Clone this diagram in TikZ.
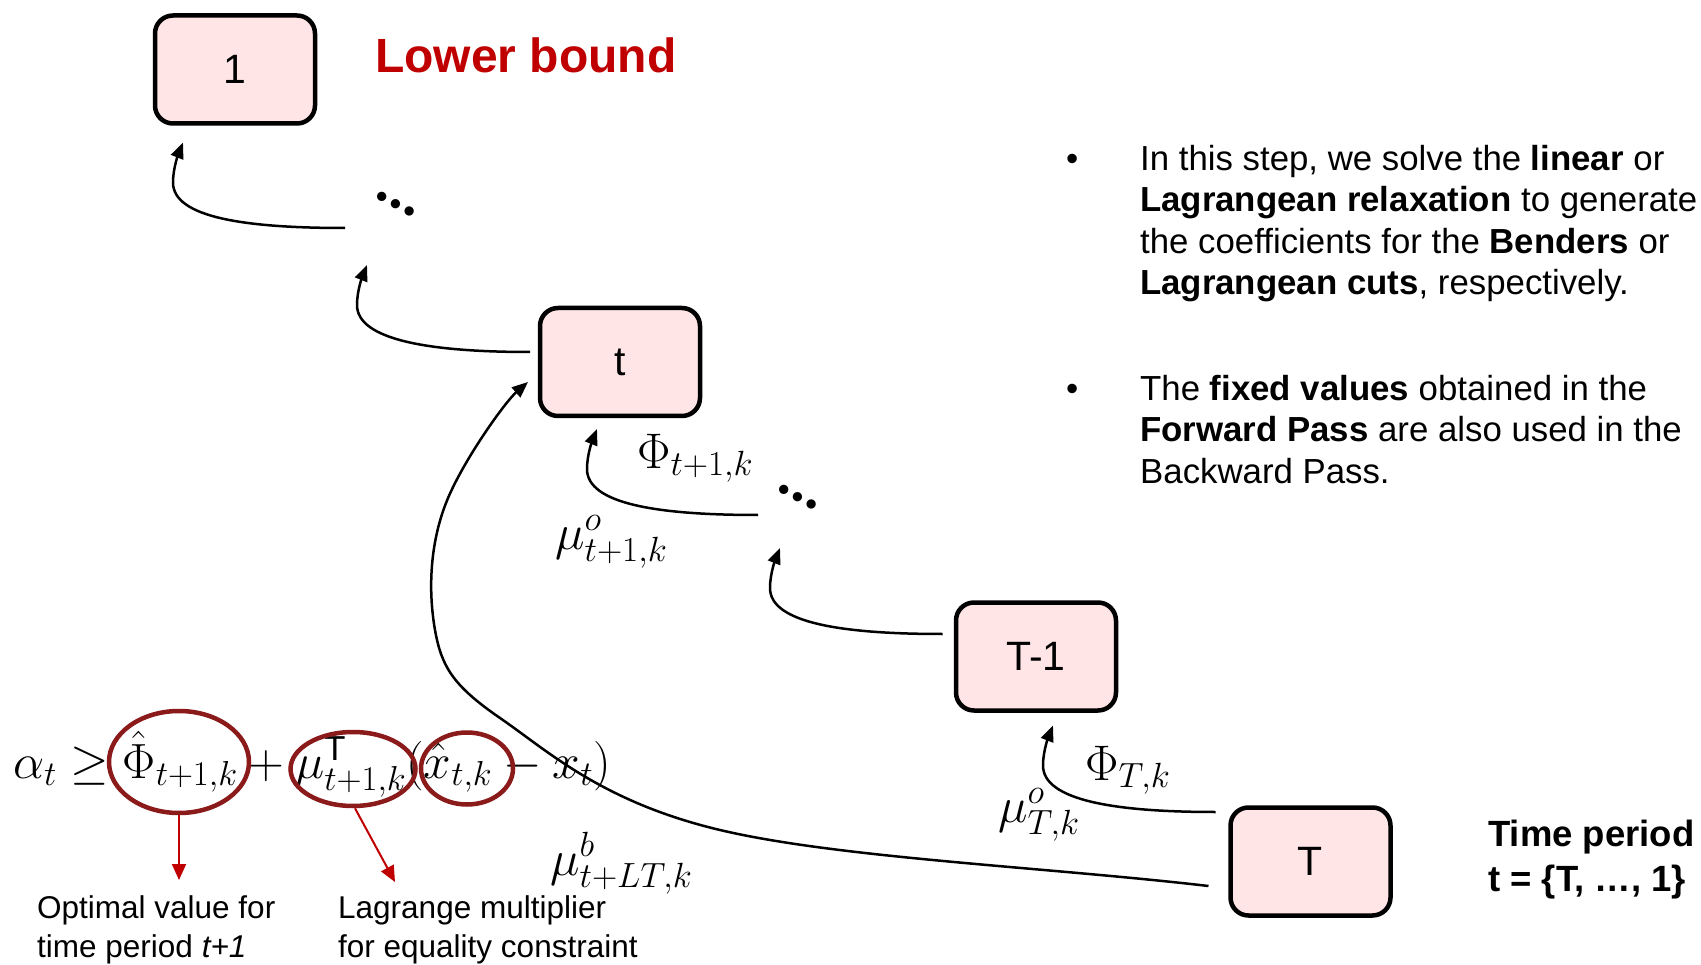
\RequirePackage{fix-cm}
\documentclass[tikz,border=0pt]{standalone}
\usepackage[no-math]{fontspec}
\setmainfont{Liberation Sans}
\newfontfamily\lmfont{lmroman10-bold}[Extension=.otf]
\usepackage{amsmath}
\usetikzlibrary{arrows.meta,shapes.geometric}
\definecolor{boxfill}{RGB}{255,229,229}
\definecolor{lbred}{RGB}{192,0,0}
\definecolor{ringred}{RGB}{139,26,26}
\begin{document}
\begin{tikzpicture}[x=1pt,y=-1pt,
  stage/.style={draw=black,line width=4.5pt,fill=boxfill,rounded corners=18pt,minimum width=160pt,minimum height=108pt,inner sep=0pt,font=\fontsize{41}{41}\selectfont},
  arr/.style={line width=2.5pt,-{Triangle[length=16pt,width=13pt]}},
  ring/.style={draw=ringred,line width=4.5pt},
  redarr/.style={draw=lbred,line width=2pt,-{Triangle[length=16pt,width=14pt]},fill=lbred},
  lbl/.style={inner sep=0pt,anchor=base west},
  mlbl/.style={inner sep=0pt,anchor=base west,font=\fontsize{50}{50}\selectfont},
  dotsn/.style={inner sep=0pt,rotate=-28,font=\lmfont\fontsize{60}{60}\selectfont},
  btxt/.style={inner sep=0pt,anchor=base west,font=\fontsize{34.8}{34.8}\selectfont},
]
\useasboundingbox[fill=white] (0,0) rectangle (1701,965);

% stage boxes
\node[stage] (b1)  at (235,69.5)     {1};
\node[stage] (bt)  at (620,362)      {t};
\node[stage] (bT1) at (1036,656.5)   {T-1};
\node[stage] (bT)  at (1310.5,861.5) {T};

% ellipsis nodes
\node[dotsn] (d1) at (396,204) {…};
\node[dotsn] (d2) at (798,497) {…};

% title
\node[lbl,font=\fontsize{48}{48}\selectfont\bfseries,text=lbred] (lb) at (375,73) {Lower bound};

% backward arrows
\draw[arr] ([shift={(-51,24)}]d1.center) .. controls +(-100,0) and +(0,35) .. ([shift={(-62,56.75)}]b1.south)
  .. controls +(0,-15) and +(-4,10) .. ([shift={(-52,16.75)}]b1.south);
\draw[arr] ([shift={(-7.75,-10)}]bt.west) .. controls +(-100,0) and +(0,35) .. ([shift={(-39,101)}]d1.center)
  .. controls +(0,-15) and +(-4,10) .. ([shift={(-29,61)}]d1.center);
\draw[arr] ([shift={(-40,18)}]d2.center) .. controls +(-100,0) and +(0,35) .. ([shift={(-33,50.75)}]bt.south)
  .. controls +(0,-15) and +(-4,10) .. ([shift={(-23,10.75)}]bt.south);
\draw[arr] ([shift={(-11.25,-22.5)}]bT1.west) .. controls +(-100,0) and +(0,35) .. ([shift={(-28,91)}]d2.center)
  .. controls +(0,-15) and +(-4,10) .. ([shift={(-18,51)}]d2.center);
\draw[arr] ([shift={(-12.75,-49.5)}]bT.west) .. controls +(-100,0) and +(0,35) .. ([shift={(7,52.75)}]bT1.south)
  .. controls +(0,-15) and +(-4,10) .. ([shift={(17,12.75)}]bT1.south);

% long arrow T -> t
\draw[arr] ([shift={(-19.75,24.5)}]bT.west)
  .. controls (1045,867) and (838,858) .. (720,830)
  .. controls (602,802) and (548,751) .. (500,718)
  .. controls (452,685) and (441.5,666) .. (435,630)
  .. controls (428,590) and (430,544) .. (446,503)
  .. controls (462,462) and (505,402) .. ([shift={(-9.75,20)}]bt.west);

% labels on arrows
\node[mlbl] (phit) at (637,468) {$\Phi_{t+1,k}$};
\node[mlbl] (mut)  at (555,549) {$\mu^{o}_{t+1,k}$};
\node[mlbl] (phiT) at (1085,780) {$\Phi_{T,k}$};
\node[mlbl] (muT)  at (998,822) {$\mu^{o}_{T,k}$};
\node[mlbl] (mub)  at (550,875) {$\mu^{b}_{t+LT,k}$};

% cut equation
\node[lbl,font=\fontsize{49.5}{49.5}\selectfont] (eq) at (13,778)
  {$\alpha_t \geq \hat{\Phi}_{t+1,k} + \mu^{\text{T}}_{t+1,k}(\hat{x}_{t,k} - x_t)$};
\draw[ring] (179,762) ellipse [x radius=70pt, y radius=51pt];
\draw[ring] (353,769) ellipse [x radius=62.5pt, y radius=37pt];
\draw[ring] (467,768.5) ellipse [x radius=46pt, y radius=36pt];

\coordinate (c1s) at (179,815.25);
\coordinate (c2s) at (355,808.25);
\coordinate (r1) at (179,880);
\coordinate (r2) at (395,882);
\draw[redarr] (c1s) -- (r1);
\draw[redarr] (c2s) -- (r2);

\node[lbl,font=\fontsize{31.5}{31.5}\selectfont] (o1) at (37,918) {Optimal value for};
\node[lbl,font=\fontsize{31.5}{31.5}\selectfont] (o2) at (37,957) {time period \textit{t+1}};
\node[lbl,font=\fontsize{31.5}{31.5}\selectfont] (m1) at (338,918) {Lagrange multiplier};
\node[lbl,font=\fontsize{31.5}{31.5}\selectfont] (m2) at (338,957) {for equality constraint};

% bullets
\node[btxt] (k1) at (1066,171) {•};
\node[btxt] (a1) at (1140,171)   {In this step, we solve the \textbf{linear} or};
\node[btxt] (a2) at (1140,212)   {\textbf{Lagrangean relaxation} to generate};
\node[btxt] (a3) at (1140,253.5) {the coefficients for the \textbf{Benders} or};
\node[btxt] (a4) at (1140,295)   {\textbf{Lagrangean cuts}, respectively.};
\node[btxt] (k2) at (1066,401) {•};
\node[btxt] (e1) at (1140,401)   {The \textbf{fixed values} obtained in the};
\node[btxt] (e2) at (1140,442)   {\textbf{Forward Pass} are also used in the};
\node[btxt] (e3) at (1140,483)   {Backward Pass.};

% time period
\node[lbl,font=\fontsize{36.5}{36.5}\selectfont\bfseries] (tp1) at (1488,846) {Time period};
\node[lbl,font=\fontsize{36.5}{36.5}\selectfont\bfseries] (tp2) at (1488,891) {t = \{T, …, 1\}};
\end{tikzpicture}
\end{document}
